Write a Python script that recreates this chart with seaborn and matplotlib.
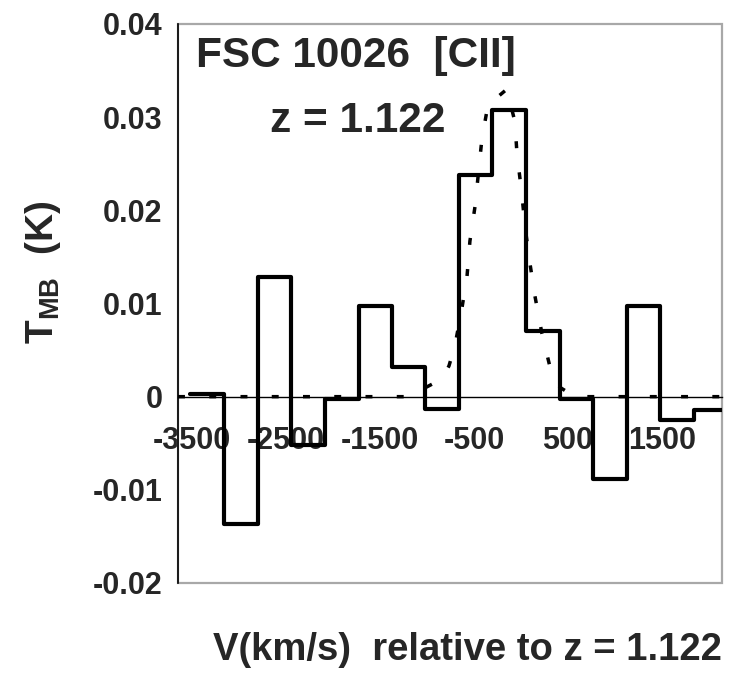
import numpy as np
import pandas as pd
import matplotlib
matplotlib.use("Agg")
import matplotlib.pyplot as plt
import seaborn as sns
from matplotlib.patches import Rectangle

# ---- data ----
chan_vel = [-3340, -2980, -2625, -2265, -1910, -1550, -1195, -840,
            -480, -125, 230, 590, 945, 1305, 1660, 2020]   # channel centres (km/s)
chan_width = 357                                              # km/s
tmb = [0.0003, -0.0137, 0.0128, -0.0052, -0.0002, 0.0097, 0.0032, -0.0013,
       0.0238, 0.0308, 0.0071, -0.0002, -0.0088, 0.0097, -0.0025, -0.0014]

fit_vel = [-3650, -1200, -840, -766, -702, -628, -574, -543, -489, -415, -351,
           -150, -64, -43, 11, 43, 96, 149, 223, 309, 415, 574, 2140]
fit_tmb = [0.0, 0.0, 0.0019, 0.0033, 0.0055, 0.0095, 0.0129, 0.0167, 0.0204,
           0.0277, 0.0313, 0.0330, 0.0295, 0.0262, 0.0216, 0.0183, 0.0143,
           0.0108, 0.0068, 0.0032, 0.0010, 0.0, 0.0]

xtick_vals = [-3500, -2500, -1500, -500, 500, 1500]
xtick_labels = ["-3500", "-2500", "-1500", "-500", "500", "1500"]
ytick_vals = [-0.02, -0.01, 0.0, 0.01, 0.02, 0.03, 0.04]
ytick_labels = ["-0.02", "-0.01", "0", "0.01", "0.02", "0.03", "0.04"]

title1 = "FSC 10026  [CII]"
title2 = "z = 1.122"
xlabel = "V(km/s)  relative to z = 1.122"
ylabel = r"$\mathrm{T_{MB}}$  (K)"

# ---- style ----
sns.set_style("white")
plt.rcParams["font.family"] = ["Liberation Sans", "DejaVu Sans"]
plt.rcParams["font.weight"] = "bold"
plt.rcParams["mathtext.fontset"] = "custom"
plt.rcParams["mathtext.rm"] = "Liberation Sans:bold"
plt.rcParams["mathtext.bf"] = "Liberation Sans:bold"

fig = plt.figure(figsize=(7.42, 6.91), dpi=100)
W, H = 742, 691
L, R, T, B = 178, 722, 24, 583
ax = fig.add_axes([L / W, 1 - B / H, (R - L) / W, (B - T) / H])

# step spectrum (edges built from channel centres)
edges = [v - chan_width / 2 for v in chan_vel] + [chan_vel[-1] + chan_width / 2]
step_df = pd.DataFrame({"v": edges, "t": tmb + [tmb[-1]]})
sns.lineplot(data=step_df, x="v", y="t", drawstyle="steps-post", color="black",
             lw=3.0, estimator=None, sort=False, ax=ax, zorder=3)

fit_df = pd.DataFrame({"v": fit_vel, "t": fit_tmb})
sns.lineplot(data=fit_df, x="v", y="t", color="black", lw=2.5,
             linestyle=(0, (2, 7)), estimator=None, sort=False, ax=ax, zorder=4)

ax.set_xlim(-3650, 2140)
ax.set_ylim(-0.02, 0.04)
ax.set_xlabel("")
ax.set_ylabel("")

# axes: zero line as bottom spine, left axis black, grey frame
ax.spines["top"].set_visible(False)
ax.spines["right"].set_visible(False)
ax.spines["bottom"].set_position(("data", 0))
ax.spines["bottom"].set_color("black")
ax.spines["bottom"].set_linewidth(1.0)
ax.spines["left"].set_color("black")
ax.spines["left"].set_linewidth(1.2)
ax.spines["left"].set_zorder(5)
ax.add_patch(Rectangle((0, 0), 1, 1, transform=ax.transAxes, fill=False,
                       edgecolor="#a8a8a8", lw=1.6, clip_on=False, zorder=1))

ax.set_xticks(xtick_vals)
ax.set_xticklabels(xtick_labels)
ax.set_xticks([v + 500 for v in xtick_vals[:-1]] + [2000], minor=True)
ax.set_yticks(ytick_vals)
ax.set_yticklabels(ytick_labels)
ax.tick_params(axis="both", which="both", direction="out", color="black",
               width=1.0, length=6, labelsize=22)
ax.tick_params(axis="x", which="major", pad=15)
ax.tick_params(axis="y", which="major", pad=5)
for lab in ax.get_xticklabels() + ax.get_yticklabels():
    lab.set_fontweight("bold")

fig.text(196 / W, 1 - 56 / H, title1, fontsize=30.5, fontweight="bold",
         ha="left", va="center")
fig.text(270 / W, 1 - 121 / H, title2, fontsize=30.5, fontweight="bold",
         ha="left", va="center")
fig.text(467 / W, 1 - 650 / H, xlabel, fontsize=27.5, fontweight="bold",
         ha="center", va="center")
fig.text(43 / W, 1 - 272 / H, ylabel, fontsize=28, fontweight="bold",
         ha="center", va="center", rotation=90)

fig.savefig("out.png", dpi=100, facecolor="white")
